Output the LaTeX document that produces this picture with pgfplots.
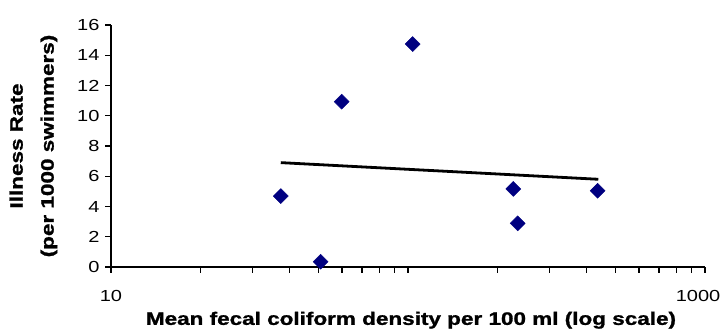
\documentclass[border=0pt]{standalone}
\usepackage{fontspec}
\setmainfont{Liberation Sans}
\newfontfamily\heavy[FakeBold=1.2]{Liberation Sans Bold}
\usepackage{graphicx}
\usepackage{pgfplots}
\pgfplotsset{compat=1.18}
\definecolor{navy}{RGB}{0,0,128}
\newcommand{\wide}[1]{\scalebox{1.25}[1]{#1}}
\begin{document}
\begin{tikzpicture}
\begin{axis}[
  at={(0pt,0pt)}, anchor=south west,
  scale only axis,
  width=594pt, height=242pt,
  xmode=log,
  xmin=10, xmax=1000,
  ymin=0, ymax=16,
  axis x line=bottom, axis y line=left,
  axis line style={-, line width=1.3pt},
  xtick={10,100,1000},
  xticklabels={\wide{10},,\wide{1000}\hspace*{14pt}},
  minor xtick={20,30,40,50,60,70,80,90,200,300,400,500,600,700,800,900},
  ytick={0,2,4,6,8,10,12,14,16},
  yticklabel={\wide{\pgfmathprintnumber{\tick}}},
  tick align=outside,
  major tick length=6pt, minor tick length=6pt,
  tick style={black, line width=1.3pt},
  minor tick style={black, line width=1.3pt},
  tick label style={font=\fontsize{16}{18}\selectfont},
  /pgf/number format/assume math mode=true,
  yticklabel style={xshift=-2pt},
  xticklabel style={yshift=-14pt},
  xlabel={\wide{\heavy Mean fecal coliform density per 100 ml (log scale)}},
  xlabel style={at={(axis description cs:0.505,-0.22)}, anchor=center, font=\fontsize{18}{20}\selectfont},
  ylabel={\wide{\heavy Illness Rate}\\[12pt]\wide{\heavy (per 1000 swimmers)}},
  ylabel style={at={(axis description cs:-0.1305,0.5)}, anchor=center, align=center, font=\fontsize{18}{19}\selectfont},
  clip=false,
]
\addplot[only marks, mark=square*, mark size=5.3pt, mark options={rotate=45, fill=navy, draw=navy}] coordinates {
  (37.3,4.69) (50.8,0.35) (59.8,10.93) (103.7,14.74) (226.2,5.16) (234.1,2.89) (435.2,5.04)
};
\addplot[black, line width=2.8pt, no marks] coordinates {(37.3,6.90) (437.2,5.80)};
\end{axis}
\pgfresetboundingbox
\path (-111pt,-64pt) rectangle (614pt,267pt);
\end{tikzpicture}
\end{document}
